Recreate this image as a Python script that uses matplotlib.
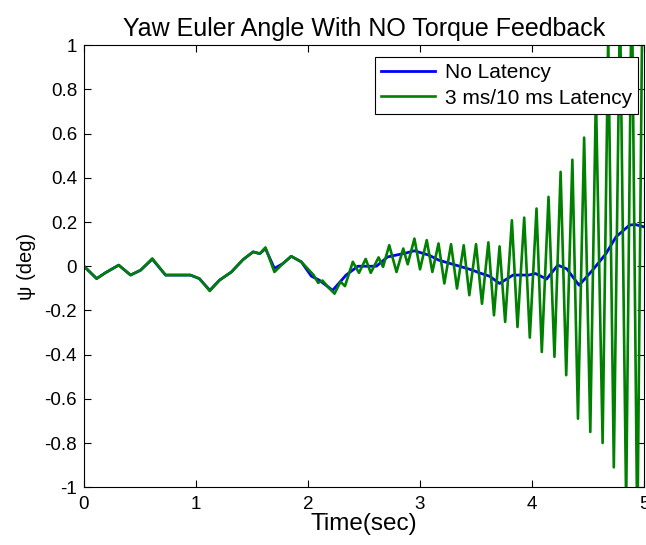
import matplotlib
matplotlib.use("Agg")
import matplotlib.pyplot as plt

plt.rcParams['font.family'] = ['Liberation Sans', 'DejaVu Sans']

# No latency (blue) series: time (s), yaw angle (deg)
t_blue = [0.0, 0.113, 0.19, 0.31, 0.416, 0.505, 0.61, 0.728, 0.95, 1.03, 1.123,
          1.21, 1.316, 1.42, 1.51, 1.57, 1.62, 1.70, 1.776, 1.85, 1.94, 2.03,
          2.10, 2.22, 2.34, 2.445, 2.61, 2.71, 2.876, 2.95, 3.08, 3.17, 3.32,
          3.47, 3.53, 3.62, 3.71, 3.83, 3.97, 4.03, 4.13, 4.23, 4.31, 4.42,
          4.54, 4.66, 4.75, 4.87, 4.92, 5.0]
psi_blue = [0.0, -0.056, -0.03, 0.005, -0.04, -0.018, 0.032, -0.04, -0.04, -0.056, -0.109,
            -0.063, -0.026, 0.03, 0.065, 0.057, 0.08, -0.01, 0.012, 0.045, 0.02, -0.045,
            -0.063, -0.109, -0.04, 0.0, 0.0, 0.042, 0.06, 0.07, 0.05, 0.027, 0.005,
            -0.018, -0.03, -0.045, -0.078, -0.04, -0.04, -0.033, -0.058, 0.005, -0.012, -0.086,
            -0.018, 0.057, 0.133, 0.186, 0.189, 0.178]

# 3 ms / 10 ms latency (green) series
t_green = [0.0, 0.113, 0.19, 0.31, 0.416, 0.505, 0.61, 0.728, 0.95, 1.03, 1.123,
           1.21, 1.316, 1.42, 1.51, 1.57, 1.62, 1.70, 1.776, 1.85, 1.94, 2.05,
           2.09, 2.13, 2.18, 2.237, 2.29, 2.33, 2.40, 2.455, 2.515, 2.56, 2.63,
           2.67, 2.725, 2.79, 2.85, 2.89, 2.95, 3.00, 3.06, 3.11, 3.165, 3.217,
           3.277, 3.33, 3.39, 3.44, 3.50, 3.553, 3.61, 3.66, 3.71, 3.76, 3.82,
           3.87, 3.93, 3.98, 4.04, 4.087, 4.147, 4.20, 4.255, 4.305, 4.36, 4.41,
           4.465, 4.52, 4.57, 4.63, 4.68, 4.73, 4.785, 4.84, 4.89, 4.94, 4.99, 5.0]
psi_green = [0.0, -0.056, -0.03, 0.005, -0.04, -0.018, 0.035, -0.04, -0.04, -0.056, -0.112,
             -0.063, -0.026, 0.03, 0.065, 0.057, 0.085, -0.026, 0.012, 0.045, 0.02, -0.04,
             -0.075, -0.065, -0.095, -0.124, -0.07, -0.09, 0.02, -0.03, 0.033, -0.03, 0.04,
             -0.003, 0.095, -0.026, 0.08, 0.009, 0.125, -0.014, 0.118, -0.026, 0.103, -0.078,
             0.1, -0.101, 0.095, -0.131, 0.1, -0.17, 0.108, -0.222, 0.09, -0.252, 0.208,
             -0.275, 0.22, -0.323, 0.261, -0.388, 0.314, -0.41, 0.427, -0.493, 0.482, -0.69,
             0.582, -0.75, 0.78, -0.80, 1.05, -0.91, 1.2, -1.08, 1.35, -1.25, 1.5, 1.45]

xticks = [0, 1, 2, 3, 4, 5]
yticks = [-1, -0.8, -0.6, -0.4, -0.2, 0, 0.2, 0.4, 0.6, 0.8, 1]
yticklabels = ['-1', '-0.8', '-0.6', '-0.4', '-0.2', '0', '0.2', '0.4', '0.6', '0.8', '1']

fig = plt.figure(figsize=(6.46, 5.45), dpi=100)
ax = fig.add_axes([0.130, 0.106, 0.867, 0.811])

ax.plot(t_blue, psi_blue, color=(0, 0, 1), lw=2, label='No Latency')
ax.plot(t_green, psi_green, color=(0, 0.5, 0), lw=1.9, label='3 ms/10 ms Latency')

ax.set_xlim(0, 5)
ax.set_ylim(-1, 1)
ax.set_xticks(xticks)
ax.set_xticklabels([str(v) for v in xticks])
ax.set_yticks(yticks)
ax.set_yticklabels(yticklabels)
ax.tick_params(direction='in', length=5, width=0.8, top=True, right=True,
               labelsize=13.5, pad=6)
ax.tick_params(axis='y', pad=5)
for s in ax.spines.values():
    s.set_linewidth(0.8)

ax.set_title('Yaw Euler Angle With NO Torque Feedback', fontsize=18, pad=7)
ax.set_xlabel('Time(sec)', fontsize=17.5, labelpad=0)
ax.set_ylabel('\u03c8 (deg)', fontsize=14.5, labelpad=6)

leg = ax.legend(loc='upper right', bbox_to_anchor=(0.989, 0.973), fontsize=15,
                fancybox=False, framealpha=1, edgecolor='black', handlelength=2.6,
                borderaxespad=0, borderpad=0.3, labelspacing=0.3, handletextpad=0.45)
leg.get_frame().set_linewidth(0.8)

fig.savefig('out.png', dpi=100)
